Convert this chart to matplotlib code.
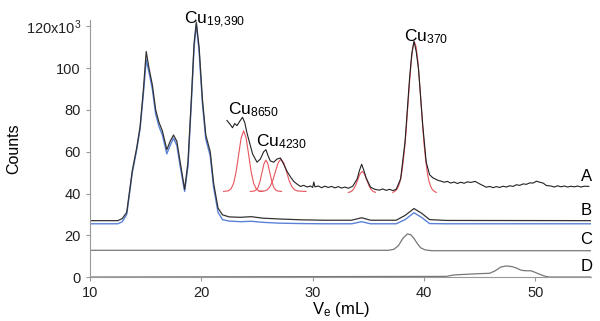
import numpy as np
import matplotlib
matplotlib.use("Agg")
import matplotlib.pyplot as plt

plt.rcParams["font.family"] = ["Liberation Sans", "DejaVu Sans"]
plt.rcParams["mathtext.fontset"] = "custom"
plt.rcParams["mathtext.rm"] = "Liberation Sans"
plt.rcParams["mathtext.it"] = "Liberation Sans"
plt.rcParams["mathtext.default"] = "rm"

# Trace B (black and blue), full elution profile
b_x = [10, 12.5, 12.9, 13.3, 13.8, 14.2, 14.5, 14.8, 15.05, 15.3, 15.6, 15.9, 16.2, 16.5,
       16.9, 17.2, 17.5, 17.8, 18.1, 18.5, 18.8, 19.1, 19.35, 19.55, 19.8, 20.1, 20.4,
       20.8, 21.1, 21.5, 21.9, 22.5, 23.5, 24.5, 25.5, 27, 29, 31, 33.5, 34.4, 35.2,
       37.5, 38.3, 39.1, 39.8, 40.5, 42, 55]
b_black = [27, 27, 28, 31, 51, 62, 72, 90, 108, 100, 92, 80, 74, 70,
           61, 65, 68, 65, 55, 42, 55, 85, 112, 122, 110, 85, 68,
           60, 45, 33, 29.8, 28.8, 28.6, 28.9, 28.2, 27.8, 27.4, 27.2, 27.2, 28.4, 27.2,
           27.2, 29.5, 32.8, 30.5, 27.5, 27.1, 27]
b_blue = [25.5, 25.5, 26.5, 30, 50, 61, 71, 88, 104, 98, 90, 78, 72, 68,
          59, 63, 66.5, 63, 53, 41, 53, 83, 110, 121, 108, 83, 66,
          58, 43, 31, 27.5, 26.8, 26.5, 26.7, 26.2, 25.8, 25.6, 25.5, 25.5, 26.5, 25.5,
          25.5, 27.5, 30.8, 28.5, 25.6, 25.5, 25.5]

# Trace A (noisy black)
a_x = [22.3, 22.6, 22.8, 23.0, 23.2, 23.5, 23.7, 23.9, 24.1, 24.4, 24.6, 24.8, 25.0, 25.3,
       25.6, 25.8, 26.0, 26.2, 26.5, 26.8, 27.1, 27.4, 27.7, 28.0, 28.3, 28.6, 28.9, 29.2,
       29.5, 29.8, 30.0, 30.1, 30.2, 30.5, 30.8, 31.1, 31.4, 31.7, 32.0, 32.3, 32.6, 32.9,
       33.2, 33.6, 34.0, 34.2, 34.4, 34.6, 34.8, 35.2, 35.6, 36.0, 36.3, 36.6, 36.9, 37.2,
       37.5, 37.9, 38.3, 38.7, 38.9, 39.1, 39.3, 39.5, 39.9, 40.2, 40.5, 40.8, 41.0, 41.3,
       41.5, 41.8, 42.1, 42.4, 42.7, 43.0, 43.3, 43.6, 43.9, 44.2, 44.6, 45.0, 45.3, 45.6,
       45.9, 46.2, 46.5, 46.8, 47.1, 47.4, 47.7, 48.0, 48.3, 48.6, 48.9, 49.2, 49.5, 49.8,
       50.1, 50.4, 50.7, 51.0, 51.4, 51.7, 52.0, 52.3, 52.6, 52.9, 53.2, 53.5, 53.8, 54.1,
       54.4, 54.8]
a_y = [75, 73, 71.5, 73.5, 72.5, 75, 76.5, 74, 69, 63, 59, 57, 55, 56.5,
       60, 61, 58, 55.6, 55, 56.5, 57, 54, 50.6, 48, 45.8, 44.5, 43.4, 43.9,
       43.1, 43.6, 42.9, 45.5, 43.2, 43.6, 42.8, 43.5, 42.9, 43.4, 42.7, 43.3, 42.6, 43.1,
       42.5, 43.5, 47, 51, 54, 51, 47.5, 43, 42, 41.6, 42.2, 41.5, 42.0, 41.4,
       42, 47, 65, 95, 107, 113, 108, 100, 72, 55, 49, 47.5, 47, 46.2,
       46, 45.4, 45.8, 45.0, 45.5, 44.8, 45.4, 44.9, 45.6, 45.3, 45.8, 44.6, 43.8, 43.0,
       43.4, 42.8, 43.3, 42.9, 43.5, 43.1, 43.7, 43.4, 44.2, 43.9, 44.6, 44.4, 45.1, 45.0,
       45.9, 45.4, 45.0, 43.8, 43.6, 43.1, 43.7, 43.2, 43.6, 43.1, 43.5, 43.2, 43.6, 43.1,
       43.5, 43.4]

# Red fitted peaks (read as points)
r1_x = [22.0, 22.45, 22.675, 22.9, 23.125, 23.35, 23.575, 23.8, 24.025, 24.25, 24.475,
        24.7, 24.925, 25.15, 25.5]
r1_y = [41, 41.3, 42.3, 44.9, 50.4, 58.6, 66.6, 70, 66.6, 58.6, 50.4, 44.9, 42.3, 41.3, 41]
r2_x = [24.4, 24.75, 24.925, 25.1, 25.275, 25.45, 25.625, 25.8, 25.975, 26.15, 26.325,
        26.5, 26.675, 26.85, 27.2]
r2_y = [41, 41.2, 41.7, 43.0, 45.9, 50.1, 54.2, 56, 54.2, 50.1, 45.9, 43.0, 41.7, 41.2, 41]
r3_x = [25.2, 25.65, 25.9, 26.15, 26.4, 26.65, 26.9, 27.15, 27.4, 27.65, 27.9, 28.15,
        28.4, 28.65, 29.4]
r3_y = [41, 41.2, 41.7, 43.1, 46.0, 50.4, 54.7, 56.5, 54.7, 50.4, 46.0, 43.1, 41.7, 41.2, 41]
r4_x = [33.2, 33.25, 33.45, 33.65, 33.85, 34.05, 34.25, 34.45, 34.65, 34.85, 35.05, 35.25,
        35.45, 35.65]
r4_y = [40.5, 40.6, 40.9, 41.9, 43.8, 46.6, 49.4, 50.6, 49.4, 46.6, 43.8, 41.9, 40.9, 40.6]
r5_x = [37.2, 37.44, 37.58, 37.73, 37.87, 38.01, 38.15, 38.30, 38.44, 38.58, 38.72, 38.87,
        39.01, 39.15, 39.29, 39.44, 39.58, 39.72, 39.86, 40.00, 40.15, 40.29, 40.43, 40.58,
        40.72, 40.86, 41.1]
r5_y = [40.5, 41.3, 42.1, 43.7, 46.2, 50.2, 56.1, 63.9, 73.5, 84.2, 94.8, 104.0,
        110.3, 112.5, 110.3, 104.0, 94.8, 84.2, 73.5, 63.9, 56.1, 50.2, 46.2, 43.7,
        42.1, 41.3, 40.5]

# Trace C
c_x = [10, 36.8, 37.3, 37.7, 38.1, 38.5, 38.8, 39.1, 39.4, 39.7, 40.1, 40.7, 55]
c_y = [12.8, 12.8, 13.3, 15, 18.5, 20.6, 20.3, 18.5, 16, 14, 13, 12.6, 12.6]

# Trace D
d_x = [10, 42, 42.7, 44.5, 45.9, 46.4, 46.9, 47.4, 47.9, 48.3, 48.7, 49.1, 49.6, 50.0,
       50.3, 50.8, 51.2, 55]
d_y = [0, 0.3, 1, 1.5, 1.8, 3, 4.8, 5.3, 5, 4.3, 3.3, 3, 3, 2.2, 1.5, 0.5, 0, 0]

trace_labels = ["A", "B", "C", "D"]
trace_label_y = [48, 32, 18, 5]

fig = plt.figure(figsize=(6, 3.21), dpi=100)
ax = fig.add_axes([0.15, 0.137, 0.835, 0.80])

red = "#e8545c"
ax.plot(c_x, c_y, color="#777777", lw=0.9)
ax.plot(d_x, d_y, color="#777777", lw=0.9)
ax.plot(b_x, b_blue, color="#5b82d8", lw=1.0)
ax.plot(b_x, b_black, color="#333333", lw=0.9)
for rx, ry in [(r1_x, r1_y), (r2_x, r2_y), (r3_x, r3_y), (r4_x, r4_y), (r5_x, r5_y)]:
    ax.plot(rx, ry, color=red, lw=0.8)
ax.plot(a_x, a_y, color="#222222", lw=0.8)

for lab, ly in zip(trace_labels, trace_label_y):
    ax.text(54.6, ly, lab, fontsize=12, ha="center", va="center")

ax.text(18.4, 121.5, r"Cu$_{19{,}390}$", fontsize=12.5)
ax.text(22.4, 78, r"Cu$_{8650}$", fontsize=12.5)
ax.text(24.9, 62.6, r"Cu$_{4230}$", fontsize=12.5)
ax.text(38.2, 113, r"Cu$_{370}$", fontsize=12.5)

ax.set_xlim(10, 55)
ax.set_ylim(0, 123)
ax.set_xticks([10, 20, 30, 40, 50])
ax.set_yticks([0, 20, 40, 60, 80, 100, 120])
ax.set_yticklabels(["0", "20", "40", "60", "80", "100", r"120x10$^3$"])
ax.spines["top"].set_visible(False)
ax.spines["right"].set_visible(False)
for s in ["left", "bottom"]:
    ax.spines[s].set_color("#999999")
ax.tick_params(colors="#999999", labelcolor="#222222", labelsize=10.5, length=3)
ax.set_xlabel(r"V$_{e}$ (mL)", fontsize=12, labelpad=0)
ax.set_ylabel("Counts", fontsize=11.5, labelpad=3)

fig.savefig("out.png", dpi=100)
